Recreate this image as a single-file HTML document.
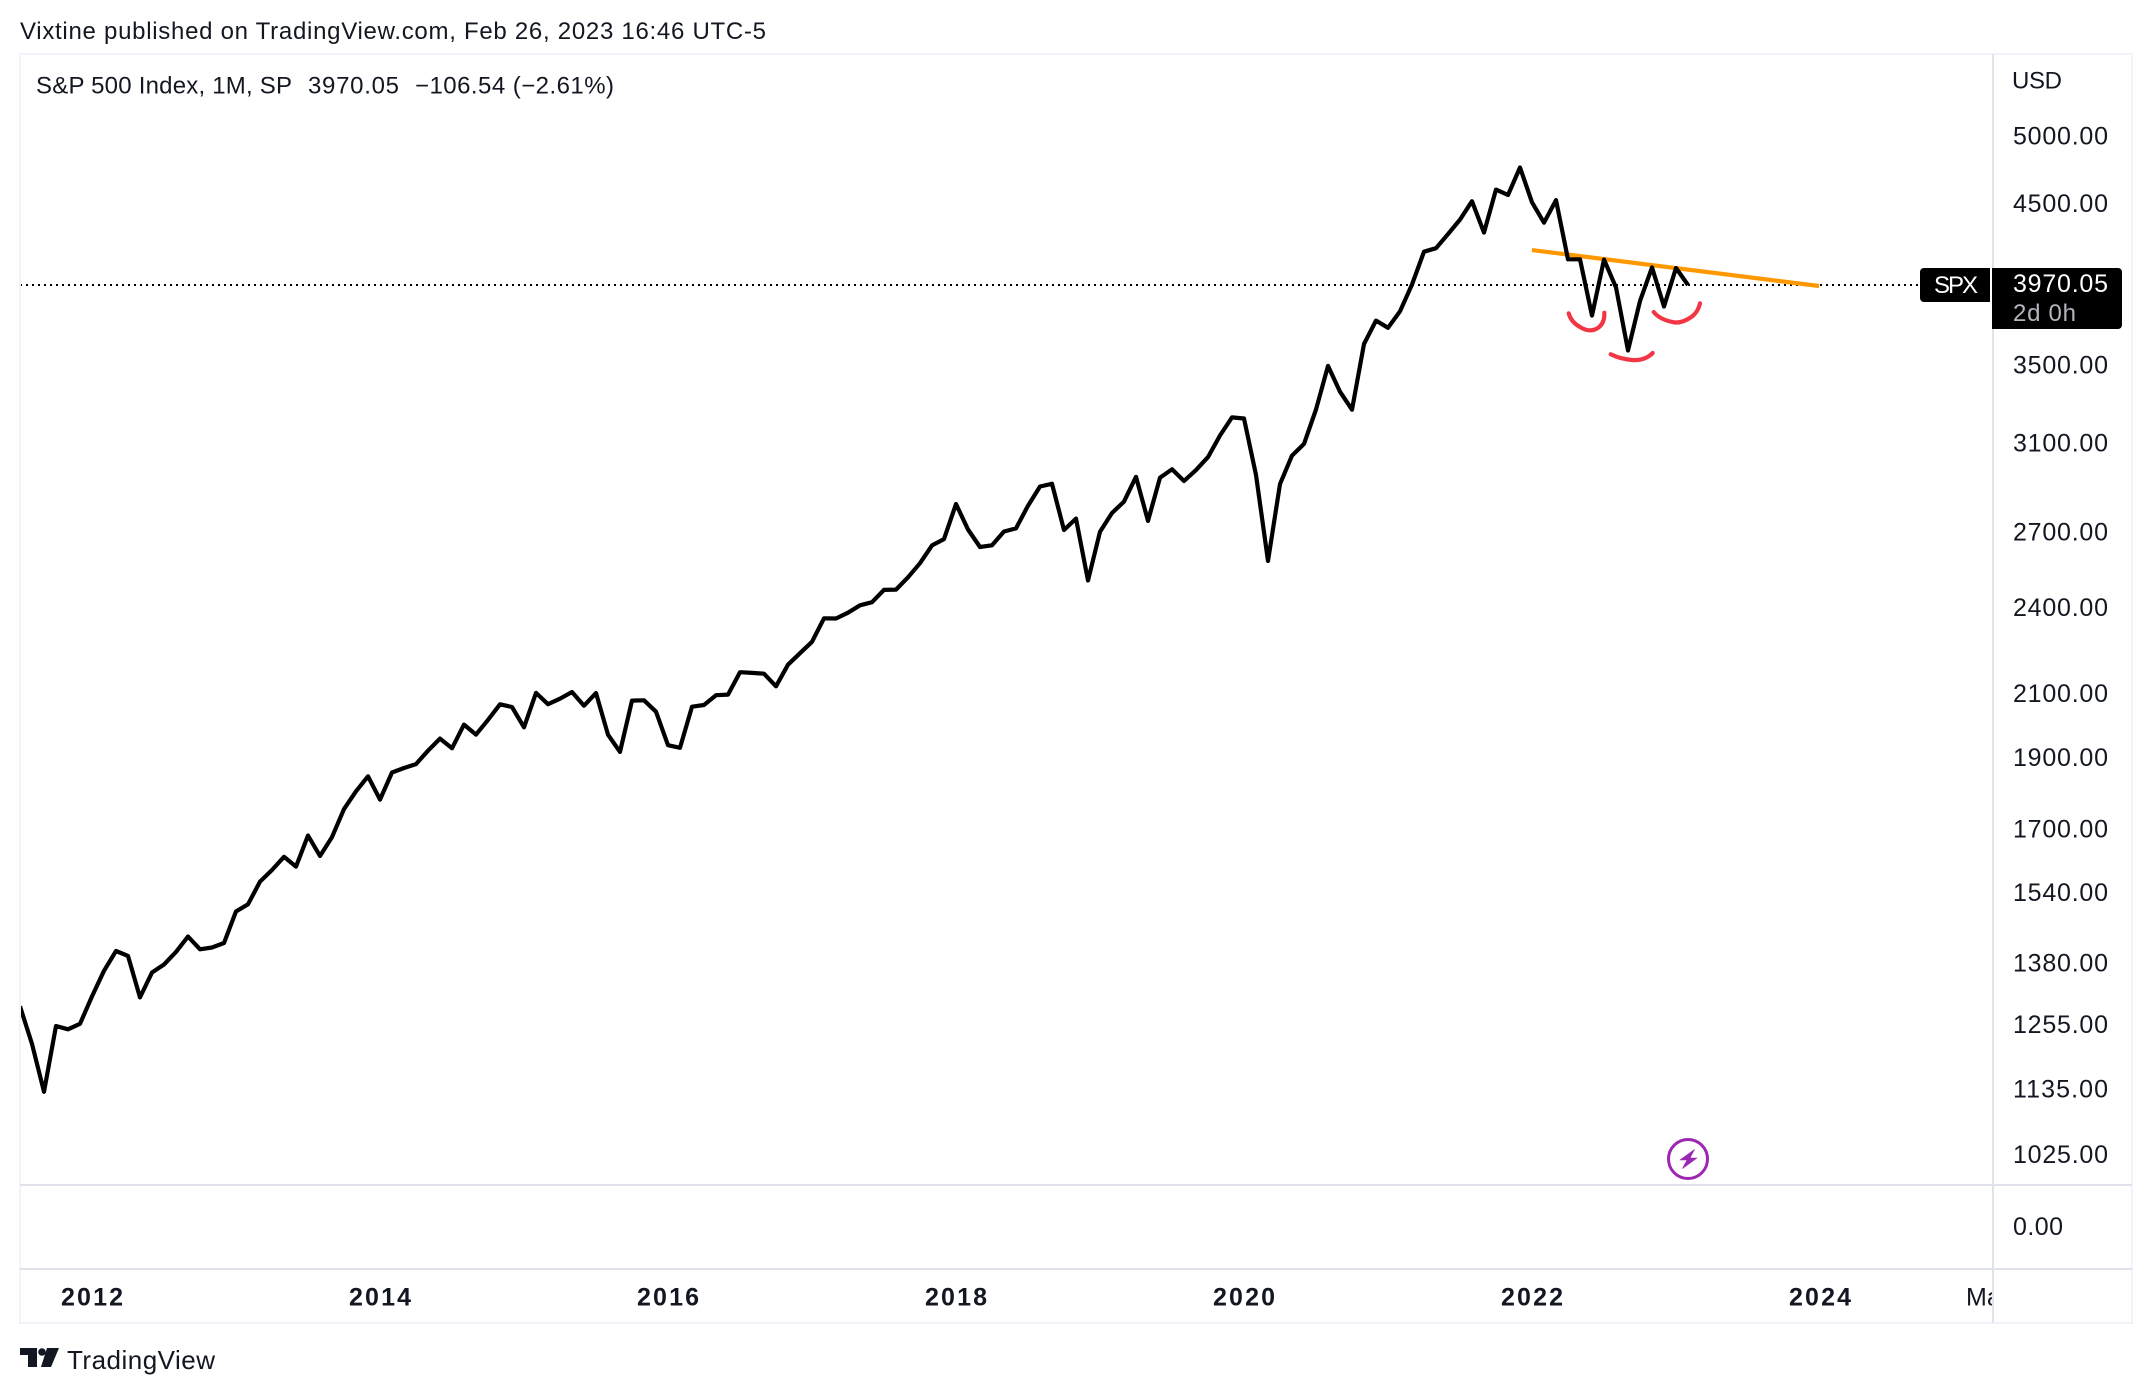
<!DOCTYPE html>
<html lang="en">
<head>
<meta charset="utf-8">
<title>S&amp;P 500 Index monthly chart</title>
<style>
html,body{margin:0;padding:0;background:#fff;}
svg{display:block;font-family:"Liberation Sans",sans-serif;}
</style>
</head>
<body>
<svg id="chart" xmlns="http://www.w3.org/2000/svg" width="2152" height="1394" viewBox="0 0 2152 1394">
  <defs>
    <clipPath id="pane-clip"><rect x="21" y="55" width="1971" height="1129"/></clipPath>
    <clipPath id="time-clip"><rect x="21" y="1271" width="1971" height="51"/></clipPath>
  </defs>
  <rect x="0" y="0" width="2152" height="1394" fill="#ffffff"/>
  <text x="20" y="39" font-size="24" fill="#131722" textLength="746" lengthAdjust="spacing">Vixtine published on TradingView.com, Feb 26, 2023 16:46 UTC-5</text>

  <rect x="20" y="54" width="2112" height="1269" fill="none" stroke="#f0f3fa" stroke-width="2"/>
  <line x1="1993" y1="54" x2="1993" y2="1323" stroke="#e0e3eb" stroke-width="2"/>
  <line x1="20" y1="1185" x2="2132" y2="1185" stroke="#e0e3eb" stroke-width="2"/>
  <line x1="20" y1="1269" x2="2132" y2="1269" stroke="#e0e3eb" stroke-width="2"/>

  <text x="36" y="93.5" font-size="24" fill="#131722" textLength="256" lengthAdjust="spacing">S&amp;P 500 Index, 1M, SP</text>
  <text id="legend-close" x="308" y="93.5" font-size="24" fill="#131722" textLength="91" lengthAdjust="spacing"></text>
  <text x="415" y="93.5" font-size="24" fill="#131722" textLength="199" lengthAdjust="spacing">&#8722;106.54 (&#8722;2.61%)</text>

  <g id="annotations-under" clip-path="url(#pane-clip)"></g>

  <g fill="none" stroke="#f23645" stroke-width="4.2" stroke-linecap="round" stroke-linejoin="round">
    <path d="M1568.7,313.3 Q1571,322 1580,327 Q1588,332 1595,329.5 Q1605,325 1604.3,312.7"/>
    <path d="M1610.7,354.3 Q1620,359 1632,360 Q1645,361 1652.7,353"/>
    <path d="M1653.7,312 Q1660,320 1675,322.5 Q1683,323 1692,316.5 Q1698,312 1700,303.3"/>
  </g>

  <g>
    <circle cx="1688" cy="1159" r="19.5" fill="#ffffff" stroke="#9c27b0" stroke-width="3"/>
    <polygon points="1694.5,1149.5 1680,1160 1687,1160 1682.5,1168.5 1697,1158 1690,1158" fill="#9c27b0" stroke="#9c27b0" stroke-width="0.6" stroke-linejoin="round"/>
  </g>

  <g id="price-labels"></g>
  <text x="2012" y="88.5" font-size="24" fill="#131722" textLength="50" lengthAdjust="spacing">USD</text>
  <text x="2013" y="1235" font-size="25" fill="#131722" textLength="50" lengthAdjust="spacing">0.00</text>

  <g id="time-labels" clip-path="url(#time-clip)"></g>

  <g id="last-price-tags"></g>

  <g>
    <polygon points="20,1348 37,1348 37,1367 28,1367 28,1355 20,1355" fill="#131722"/>
    <circle cx="42" cy="1352" r="3.8" fill="#131722"/>
    <polygon points="47,1348 59,1348 51,1367 41,1367" fill="#131722"/>
    <text x="67" y="1369" font-size="26" fill="#131722" textLength="148" lengthAdjust="spacing">TradingView</text>
  </g>
</svg>

<script>
// Monthly closes, first value is July 2011, last value is February 2023.
const startYear = 2011;
const startMonth = 6;
const closes = [
  1292.28,1218.89,1131.42,1253.30,1246.96,1257.60,
  1312.41,1365.68,1408.47,1397.91,1310.33,1362.16,1379.32,1406.58,1440.67,1412.16,1416.18,1426.19,
  1498.11,1514.68,1569.19,1597.57,1630.74,1606.28,1685.73,1632.97,1681.55,1756.54,1805.81,1848.36,
  1782.59,1859.45,1872.34,1883.95,1923.57,1960.23,1930.67,2003.37,1972.29,2018.05,2067.56,2058.90,
  1994.99,2104.50,2067.89,2085.51,2107.39,2063.11,2103.84,1972.18,1920.03,2079.36,2080.41,2043.94,
  1940.24,1932.23,2059.74,2065.30,2096.95,2098.86,2173.60,2170.95,2168.27,2126.15,2198.81,2238.83,
  2278.87,2363.64,2362.72,2384.20,2411.80,2423.41,2470.30,2471.65,2519.36,2575.26,2647.58,2673.61,
  2823.81,2713.83,2640.87,2648.05,2705.27,2718.37,2816.29,2901.52,2913.98,2711.74,2760.17,2506.85,
  2704.10,2784.49,2834.40,2945.83,2750.52,2941.76,2980.38,2926.46,2976.74,3037.56,3140.98,3230.78,
  3225.52,2954.22,2584.59,2912.43,3044.31,3100.29,3271.12,3500.31,3363.00,3269.96,3621.63,3756.07,
  3714.24,3811.15,3972.89,4181.17,4204.11,4297.50,4395.26,4522.68,4307.54,4605.38,4567.00,4766.18,
  4515.55,4373.94,4530.41,4131.93,4132.15,3785.38,4130.29,3955.00,3585.62,3871.98,4080.11,3839.50,
  4076.60,3970.05
];
const priceTicks = [5000,4500,3500,3100,2700,2400,2100,1900,1700,1540,1380,1255,1135,1025];
const yearTicks = [2012,2014,2016,2018,2020,2022,2024];
const trendMonths = [125.99, 149.92];
const trendPrices = [4192, 3964];

const NS = 'http://www.w3.org/2000/svg';
const PX_PER_MONTH = 12;
const PX_PER_LOG = 642.7;
const REF_PRICE = 3970.05;
const REF_Y = 285;
function xAt(i){ return 20 + PX_PER_MONTH * i; }
function yAt(p){ return REF_Y - PX_PER_LOG * Math.log(p / REF_PRICE); }
function yearIndex(year){ return (year - startYear) * 12 - startMonth; }
function make(tag, attrs, text){
  const el = document.createElementNS(NS, tag);
  for (const k in attrs) el.setAttribute(k, attrs[k]);
  if (text !== undefined) el.textContent = text;
  return el;
}

const lines = document.getElementById('annotations-under');
const last = closes[closes.length - 1];

const lastLine = make('line', {x1:20, x2:1920, y1:yAt(last), y2:yAt(last), stroke:'#000000', 'stroke-width':2, 'stroke-dasharray':'2 4'});


lines.appendChild(lastLine);

const trend = make('line', {x1:xAt(trendMonths[0]), y1:yAt(trendPrices[0]), x2:xAt(trendMonths[1]), y2:yAt(trendPrices[1]), stroke:'#ff9800', 'stroke-width':4.2});


lines.appendChild(trend);

const series = make('polyline', {
  points: closes.map(function(c, i){ return xAt(i).toFixed(1) + ',' + yAt(c).toFixed(1); }).join(' '),
  fill:'none', stroke:'#000000', 'stroke-width':4.2, 'stroke-linejoin':'round', 'stroke-linecap':'butt'
});


lines.appendChild(series);

const priceGroup = document.getElementById('price-labels');
priceTicks.forEach(function(p){
  const t = make('text', {x:2013, y:(yAt(p) + 7.6).toFixed(1), 'font-size':25, fill:'#131722', textLength:95, lengthAdjust:'spacing'}, p.toFixed(2));
  
  
  priceGroup.appendChild(t);
});

const timeGroup = document.getElementById('time-labels');
yearTicks.forEach(function(year){
  const t = make('text', {x:xAt(yearIndex(year)), y:1305.5, 'font-size':25, 'font-weight':'bold', fill:'#131722', 'text-anchor':'middle', textLength:62, lengthAdjust:'spacing'}, String(year));
  
  
  timeGroup.appendChild(t);
});
const nextTick = make('text', {x:1966, y:1305.5, 'font-size':25, fill:'#131722'}, 'Mar');


timeGroup.appendChild(nextTick);

document.getElementById('legend-close').textContent = last.toFixed(2);

const tags = document.getElementById('last-price-tags');
const tagTop = yAt(last) - 17;

const spxTag = make('path', {d:'M1990 '+tagTop+' H1924 a4 4 0 0 0 -4 4 V'+(tagTop+30)+' a4 4 0 0 0 4 4 H1990 Z', fill:'#000000'});


tags.appendChild(spxTag);

const spxText = make('text', {x:1934, y:tagTop+25, 'font-size':24, fill:'#ffffff', textLength:44, lengthAdjust:'spacing'}, 'SPX');


tags.appendChild(spxText);

const priceTag = make('path', {d:'M1992 '+tagTop+' H2118 a4 4 0 0 1 4 4 V'+(tagTop+57)+' a4 4 0 0 1 -4 4 H1992 Z', fill:'#000000'});


tags.appendChild(priceTag);

const priceText = make('text', {x:2013, y:tagTop+24, 'font-size':25, fill:'#ffffff', textLength:95, lengthAdjust:'spacing'}, last.toFixed(2));


tags.appendChild(priceText);

const countdown = make('text', {x:2013, y:tagTop+53, 'font-size':24, fill:'#b2b5be', textLength:63, lengthAdjust:'spacing'}, '2d 0h');


tags.appendChild(countdown);
</script>
</body>
</html>
